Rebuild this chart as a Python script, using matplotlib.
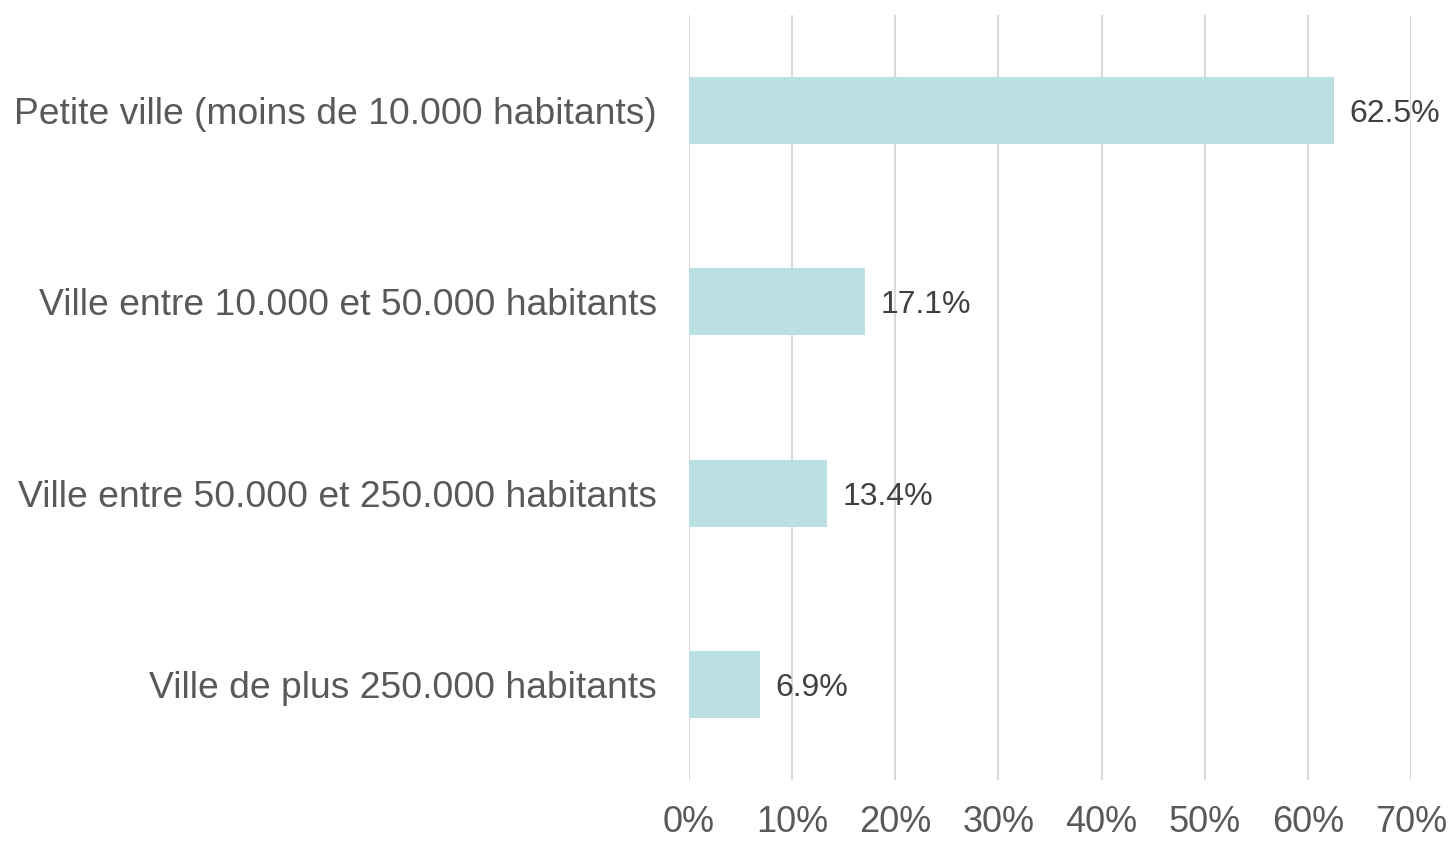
import matplotlib.pyplot as plt
import numpy as np

categories = ['Petite ville (moins de 10.000 habitants)',
              'Ville entre 10.000 et 50.000 habitants',
              'Ville entre 50.000 et 250.000 habitants',
              'Ville de plus 250.000 habitants']
values = [62.5, 17.1, 13.4, 6.9]
ticks = [0, 10, 20, 30, 40, 50, 60, 70]

plt.rcParams['font.family'] = ['Liberation Sans', 'DejaVu Sans']

fig = plt.figure(figsize=(14.49, 8.41), dpi=100)
ax = fig.add_axes([689/1449, 61/841, 722/1449, 765/841])

y = np.arange(len(categories))
ax.barh(y, values, height=0.35, color='#BAE0E3', zorder=2)
for yi, v in zip(y, values):
    ax.text(v + 1.5, yi, '%.1f%%' % v, va='center_baseline', ha='left',
            fontsize=23, color='#404040')

ax.set_xlim(0, 70)
ax.set_ylim(3.5, -0.5)
ax.set_xticks(ticks)
ax.set_xticklabels(['%d%%' % t for t in ticks], fontsize=26, color='#595959')
ax.set_yticks(y)
ax.set_yticklabels(categories, fontsize=26.8, color='#595959')
ax.tick_params(length=0, pad=23, axis='y')
ax.tick_params(length=0, pad=18, axis='x')
ax.xaxis.grid(True, color='#D9D9D9', linewidth=1.5, zorder=0)
ax.set_axisbelow(True)
for s in ax.spines.values():
    s.set_visible(False)

fig.savefig('out.png', dpi=100)
